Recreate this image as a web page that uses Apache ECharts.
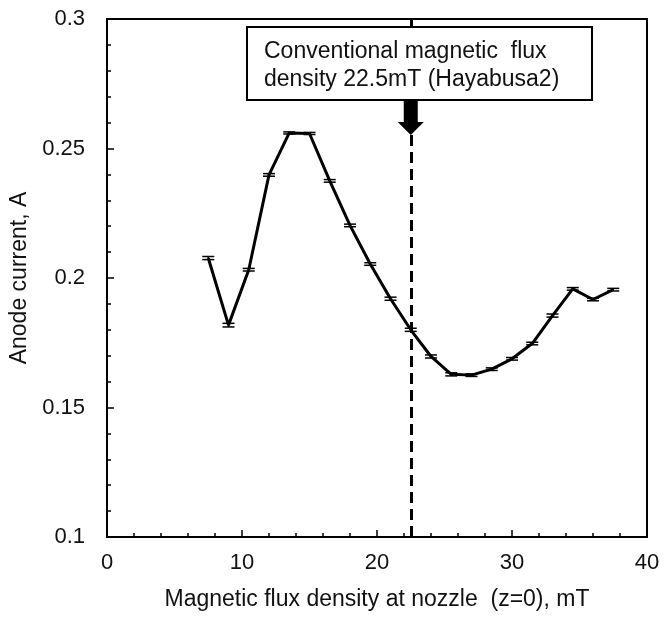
<!DOCTYPE html>
<html>
<head>
<meta charset="utf-8">
<script src="https://cdn.jsdelivr.net/npm/echarts@6/dist/echarts.min.js"></script>
<style>
html,body{margin:0;padding:0;background:#fff;}
#chart{width:664px;height:619px;}
</style>
</head>
<body>
<div id="chart"></div>
<script>
// ---- data ----
var fluxDensity = [7.5, 9, 10.5, 12, 13.5, 15, 16.5, 18, 19.5, 21, 22.5, 24, 25.5, 27, 28.5, 30, 31.5, 33, 34.5, 36, 37.5];
var anodeCurrent = [0.2077, 0.1818, 0.2032, 0.2398, 0.2560, 0.2558, 0.2375, 0.2203, 0.2054, 0.1920, 0.1800, 0.1697, 0.1628, 0.1625, 0.1648, 0.1688, 0.1747, 0.1855, 0.1958, 0.1917, 0.1955];
var currentError = [0.0006, 0.0007, 0.0005, 0.0005, 0.0004, 0.0004, 0.0005, 0.0005, 0.0005, 0.0006, 0.0006, 0.0006, 0.0006, 0.0005, 0.0005, 0.0005, 0.0005, 0.0006, 0.0005, 0.0005, 0.0005];
var conventionalFlux = 22.5;
var annotationLines = ['Conventional magnetic  flux', 'density 22.5mT (Hayabusa2)'];
var xTickLabels = ['0', '10', '20', '30', '40'];
var yTickLabels = ['0.1', '0.15', '0.2', '0.25', '0.3'];
var xTitle = 'Magnetic flux density at nozzle  (z=0), mT';
var yTitle = 'Anode current, A';

var FONT = 'Liberation Sans, Arial, sans-serif';
var lineData = fluxDensity.map(function (x, i) { return [x, anodeCurrent[i]]; });
var errData = fluxDensity.map(function (x, i) { return [x, anodeCurrent[i] - currentError[i], anodeCurrent[i] + currentError[i]]; });

var chart = echarts.init(document.getElementById('chart'), null, {renderer: 'canvas'});

var option = {
  animation: false,
  backgroundColor: '#fff',
  grid: {left: 107, top: 19, right: 17, bottom: 82, show: true, borderColor: '#000', borderWidth: 2, backgroundColor: 'transparent'},
  xAxis: {
    type: 'value', min: 0, max: 40, interval: 10,
    name: xTitle, nameLocation: 'middle', nameGap: 51,
    nameTextStyle: {fontFamily: FONT, fontSize: 23, color: '#111'},
    axisLine: {show: true, onZero: false, lineStyle: {color: '#000', width: 2}},
    axisTick: {show: true, inside: true, length: 7, lineStyle: {color: '#000', width: 1.5}},
    minorTick: {show: true, splitNumber: 5, length: 4, lineStyle: {color: '#000', width: 1.5}},
    splitLine: {show: false},
    axisLabel: {fontFamily: FONT, fontSize: 22, color: '#111', margin: 15,
      formatter: function (v) { var i = Math.round(v / 10); return xTickLabels[i] !== undefined ? xTickLabels[i] : ''; }}
  },
  yAxis: {
    type: 'value', min: 0.1, max: 0.3, interval: 0.05,
    name: yTitle, nameLocation: 'middle', nameGap: 72, nameRotate: 90,
    nameTextStyle: {fontFamily: FONT, fontSize: 23, color: '#111'},
    axisLine: {show: true, onZero: false, lineStyle: {color: '#000', width: 2}},
    axisTick: {show: true, inside: true, length: 7, lineStyle: {color: '#000', width: 1.5}},
    minorTick: {show: true, splitNumber: 5, length: 4, lineStyle: {color: '#000', width: 1.5}},
    splitLine: {show: false},
    axisLabel: {fontFamily: FONT, fontSize: 22, color: '#111', margin: 22,
      formatter: function (v) { var i = Math.round((v - 0.1) / 0.05); return yTickLabels[i] !== undefined ? yTickLabels[i] : ''; }}
  },
  series: [
    {
      type: 'line', data: lineData, symbol: 'none', z: 3,
      lineStyle: {color: '#000', width: 3},
      markLine: {
        silent: true, symbol: ['none', 'none'], label: {show: false},
        lineStyle: {color: '#000', width: 3, type: [11, 6]},
        data: [{xAxis: conventionalFlux}]
      }
    },
    {
      type: 'custom', z: 4, data: errData,
      renderItem: function (params, api) {
        var x = api.value(0);
        var lo = api.coord([x, api.value(1)]);
        var hi = api.coord([x, api.value(2)]);
        var hw = 6;
        var st = {stroke: '#000', lineWidth: 1.5, fill: null};
        return {type: 'group', children: [
          {type: 'line', shape: {x1: lo[0], y1: lo[1], x2: hi[0], y2: hi[1]}, style: st},
          {type: 'line', shape: {x1: lo[0] - hw, y1: lo[1], x2: lo[0] + hw, y2: lo[1]}, style: st},
          {type: 'line', shape: {x1: hi[0] - hw, y1: hi[1], x2: hi[0] + hw, y2: hi[1]}, style: st}
        ]};
      }
    }
  ]
};
chart.setOption(option);

var ax = chart.convertToPixel({gridIndex: 0}, [conventionalFlux, 0.3])[0];
var boxL = 247, boxT = 27, boxW = 345, boxH = 73;
chart.setOption({
  graphic: [
    {type: 'rect', z: 10, shape: {x: boxL, y: boxT, width: boxW, height: boxH},
      style: {fill: '#fff', stroke: '#000', lineWidth: 2}},
    {type: 'text', z: 11, style: {x: boxL + 17, y: boxT + 25, text: annotationLines[0], font: '23px ' + FONT, fill: '#111', textVerticalAlign: 'middle'}},
    {type: 'text', z: 11, style: {x: boxL + 17, y: boxT + 53, text: annotationLines[1], font: '23px ' + FONT, fill: '#111', textVerticalAlign: 'middle'}},
    {type: 'polygon', z: 11, shape: {points: [
      [ax - 7, boxT + boxH], [ax + 7, boxT + boxH], [ax + 7, boxT + boxH + 22],
      [ax + 13, boxT + boxH + 22], [ax, boxT + boxH + 35], [ax - 13, boxT + boxH + 22], [ax - 7, boxT + boxH + 22]
    ]}, style: {fill: '#000'}}
  ]
});
</script>
</body>
</html>
